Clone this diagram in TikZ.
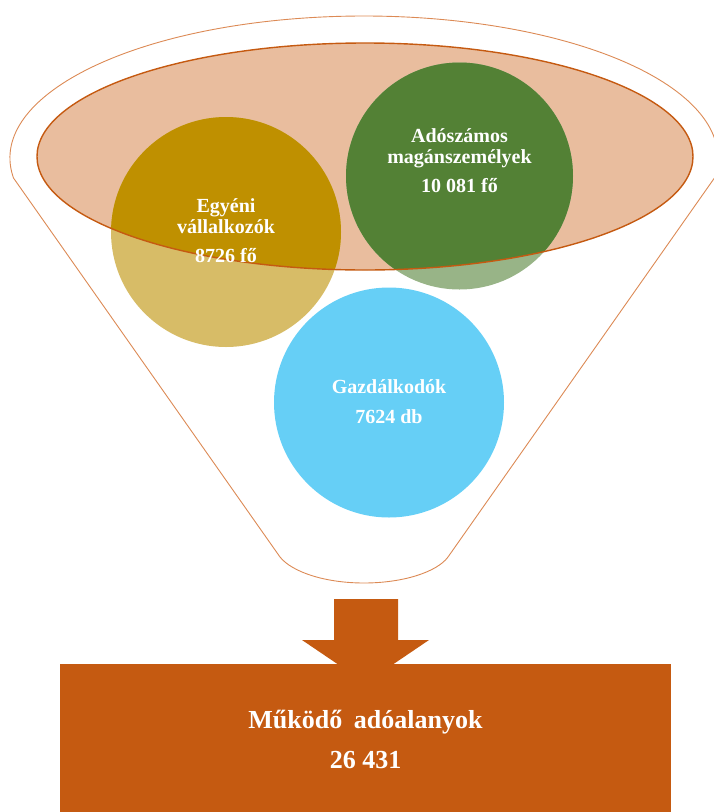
\documentclass[tikz,border=0pt]{standalone}
\usepackage{fontspec}
\setmainfont{Liberation Serif}
\definecolor{funnelline}{HTML}{DC8A55}
\definecolor{rust}{HTML}{C55A11}
\definecolor{salmon}{HTML}{E9BD9E}
\definecolor{golddark}{HTML}{BF9000}
\definecolor{goldlight}{HTML}{D7BC67}
\definecolor{greendark}{HTML}{538135}
\definecolor{greenlight}{HTML}{98B487}
\definecolor{skyblue}{HTML}{66CFF6}
\tikzset{
  circtext/.style={text=white, font=\bfseries\fontsize{20}{21}\selectfont, anchor=base, inner sep=0pt},
  boxtext/.style={text=white, font=\bfseries\fontsize{26}{28}\selectfont, anchor=base, inner sep=0pt},
  funnelshape/.style={draw=funnelline, line width=0.9pt},
  rim/.style={draw=rust, line width=1.4pt}
}
\begin{document}
\begin{tikzpicture}[x=1pt,y=-1pt]
\useasboundingbox (0,0) rectangle (713,812);
% outer funnel outline
\draw[funnelshape] (13.5,178) arc[start angle=171.9, end angle=368.1, x radius=354, y radius=142]
  -- (448,557) .. controls (437,572) and (403,583) .. (364,583)
  .. controls (325,583) and (292,572) .. (280,557) -- cycle;
% inner ellipse fill
\fill[salmon] (365,156.5) ellipse[x radius=328, y radius=113.5];
% circles (light parts outside the ellipse)
\fill[goldlight] (226,232) circle[radius=115];
\fill[greenlight] (459.5,176) circle[radius=113.5];
\begin{scope}
  \clip (365,156.5) ellipse[x radius=328, y radius=113.5];
  \fill[golddark] (226,232) circle[radius=115];
  \fill[greendark] (459.5,176) circle[radius=113.5];
\end{scope}
% ellipse rim
\draw[rim] (365,156.5) ellipse[x radius=328, y radius=113.5];
\fill[skyblue] (389,402.5) circle[radius=115];
% labels
\node[circtext] (g1) at (226,212) {Egyéni};
\node[circtext] (g2) at (226,233) {vállalkozók};
\node[circtext] (g3) at (226,262) {8726 fő};
\node[circtext] (m1) at (459.5,142) {Adószámos};
\node[circtext] (m2) at (459.5,163) {magánszemélyek};
\node[circtext] (m3) at (459.5,192) {10 081 fő};
\node[circtext] (b1) at (389,393) {Gazdálkodók};
\node[circtext] (b2) at (389,423) {7624 db};
% arrow
\fill[rust] (334,599) -- (398,599) -- (398,640) -- (429,640) -- (365.5,683) -- (302,640) -- (334,640) -- cycle;
% result box
\fill[rust] (60,664) rectangle (671,812);
\node[boxtext] (r1) at (365.5,728) {Működő\hspace{0.45em}adóalanyok};
\node[boxtext] (r2) at (365.5,768) {26 431};
\end{tikzpicture}
\end{document}
